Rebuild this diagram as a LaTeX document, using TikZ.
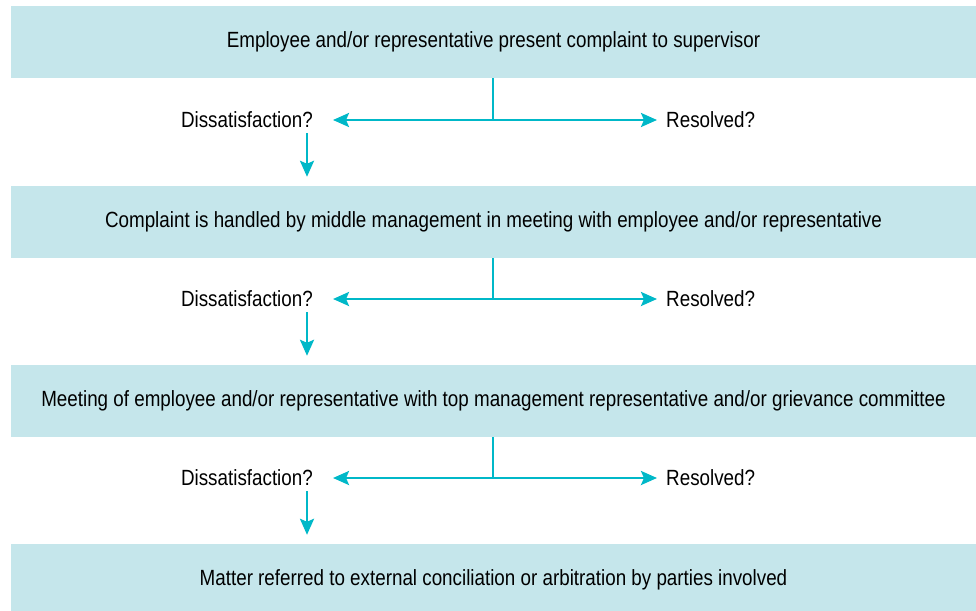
\documentclass[tikz,border=0pt]{standalone}
\usepackage{fontspec}
\setmainfont[FakeStretch=0.855]{Liberation Sans}
\usetikzlibrary{arrows.meta,calc}
\definecolor{boxfill}{RGB}{197,230,235}
\definecolor{arrowc}{RGB}{0,184,200}
\begin{document}
\begin{tikzpicture}[x=1pt,y=-1pt,
  stepbox/.style={fill=boxfill,draw=none,minimum width=965pt,minimum height=72pt,inner sep=0pt,
    font=\fontsize{22}{26}\selectfont},
  lbl/.style={inner sep=0pt,font=\fontsize{22}{26}\selectfont},
  flow/.style={draw=arrowc,line width=2.6pt},
  flowarr/.style={flow,-{Stealth[length=16pt,width=14pt,inset=3pt]}}]
\useasboundingbox (0,0) rectangle (976,610);
\node[stepbox] (b1) at (493.5,42) {Employee and/or representative present complaint to supervisor};
\node[stepbox] (b2) at (493.5,222) {Complaint is handled by middle management in meeting with employee and/or representative};
\node[stepbox] (b3) at (493.5,401) {Meeting of employee and/or representative with top management representative and/or grievance committee};
\node[stepbox] (b4) at (493.5,580) {Matter referred to external conciliation or arbitration by parties involved};
\foreach \a/\b/\y [count=\i] in {b1/b2/120,b2/b3/299,b3/b4/478}{
  \coordinate (j\i) at (493,\y);
  \node[lbl,anchor=east] (d\i) at (313,\y) {Dissatisfaction?};
  \node[lbl,anchor=west] (r\i) at (666,\y) {Resolved?};
  \draw[flow] (\a.south -| j\i) -- (j\i);
  \draw[flowarr,shorten >=20pt] (j\i) -- (d\i.east);
  \draw[flowarr,shorten >=9pt] (j\i) -- (r\i.west);
  \coordinate (s\i) at ($(d\i.east)+(-6,13)$);
  \draw[flowarr,shorten >=9pt] (s\i) -- (s\i |- \b.north);
}
\end{tikzpicture}
\end{document}
